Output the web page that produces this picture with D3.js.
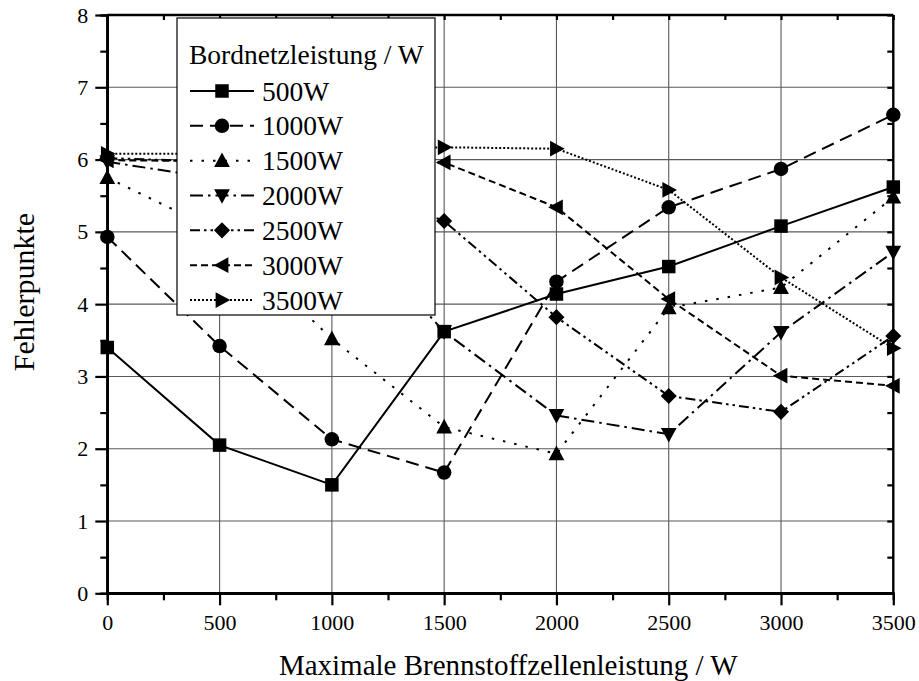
<!DOCTYPE html>
<html>
<head>
<meta charset="utf-8">
<script src="https://cdn.jsdelivr.net/npm/d3@7"></script>
<style>
html,body{margin:0;padding:0;background:#fff;}
svg{display:block;}
text{font-family:"Liberation Serif","Times New Roman",serif;fill:#000;}
</style>
</head>
<body>
<svg id="chart" width="919" height="681"></svg>
<script>
// ---- data ----
const xValues = [0, 500, 1000, 1500, 2000, 2500, 3000, 3500];
const seriesNames = ["500W", "1000W", "1500W", "2000W", "2500W", "3000W", "3500W"];
const s500  = [3.40, 2.05, 1.50, 3.62, 4.14, 4.52, 5.08, 5.62];
const s1000 = [4.93, 3.42, 2.13, 1.67, 4.31, 5.34, 5.87, 6.62];
const s1500 = [5.75, 5.00, 3.52, 2.30, 1.93, 3.95, 4.23, 5.48];
const s2000 = [5.97, 5.73, 5.30, 3.62, 2.46, 2.20, 3.61, 4.72];
const s2500 = [6.02, 5.97, 5.75, 5.15, 3.82, 2.73, 2.51, 3.56];
const s3000 = [5.99, 5.98, 5.97, 5.96, 5.34, 4.07, 3.01, 2.87];
const s3500 = [6.08, 6.08, 6.12, 6.17, 6.15, 5.58, 4.37, 3.39];
const xTickLabels = ["0", "500", "1000", "1500", "2000", "2500", "3000", "3500"];
const yTickLabels = ["0", "1", "2", "3", "4", "5", "6", "7", "8"];
const legendTitle = "Bordnetzleistung / W";
const xTitle = "Maximale Brennstoffzellenleistung / W";
const yTitle = "Fehlerpunkte";

const seriesValues = [s500, s1000, s1500, s2000, s2500, s3000, s3500];
const dashes = [null, "13,7", "2.5,9", "13,5,2.5,5", "10,4,2.5,4,2.5,4", "7,4", "2,2"];
const symbols = ["square", "circle", "up", "down", "diamond", "left", "right"];

// ---- layout ----
const L = 107.3, R = 893.3, T = 15, B = 593.3;
const svg = d3.select("#chart");
const x = d3.scaleLinear().domain([0, 3500]).range([L, R]);
const y = d3.scaleLinear().domain([0, 8]).range([B, T]);

// grid
const grid = svg.append("g");
grid.selectAll("line.v").data(d3.range(500, 3500, 500)).enter().append("line")
  .attr("x1", d => x(d)).attr("x2", d => x(d)).attr("y1", T).attr("y2", B)
  .attr("stroke", "#5a5a5a").attr("stroke-width", 1.1);
grid.selectAll("line.h").data(d3.range(1, 8, 1)).enter().append("line")
  .attr("y1", d => y(d)).attr("y2", d => y(d)).attr("x1", L).attr("x2", R)
  .attr("stroke", "#5a5a5a").attr("stroke-width", 1.1);

// marker path generator
function markerPath(type, s) {
  const h = s / 2;
  switch (type) {
    case "square": return `M${-h},${-h}H${h}V${h}H${-h}Z`;
    case "circle": return d3.symbol(d3.symbolCircle, Math.PI * h * h)();
    case "up": return `M0,${-h * 1.1}L${h * 1.05},${h * 0.85}L${-h * 1.05},${h * 0.85}Z`;
    case "down": return `M0,${h * 1.1}L${h * 1.05},${-h * 0.85}L${-h * 1.05},${-h * 0.85}Z`;
    case "diamond": return `M0,${-h * 1.15}L${h * 1.15},0L0,${h * 1.15}L${-h * 1.15},0Z`;
    case "left": return `M${-h * 1.1},0L${h * 0.85},${-h * 1.05}L${h * 0.85},${h * 1.05}Z`;
    case "right": return `M${h * 1.1},0L${-h * 0.85},${-h * 1.05}L${-h * 0.85},${h * 1.05}Z`;
  }
}
const msize = { square: 13.5, circle: 14.5, up: 15, down: 15, diamond: 14, left: 15, right: 15 };

const line = d3.line().x((d, i) => x(xValues[i])).y(d => y(d));

const plot = svg.append("g");
seriesValues.forEach((vals, k) => {
  const g = plot.append("g");
  g.append("path").datum(vals).attr("d", line)
    .attr("fill", "none").attr("stroke", "#000").attr("stroke-width", 2)
    .attr("stroke-dasharray", dashes[k]);
  g.selectAll("path.m").data(vals).enter().append("path")
    .attr("transform", (d, i) => `translate(${x(xValues[i])},${y(d)})`)
    .attr("d", markerPath(symbols[k], msize[symbols[k]]))
    .attr("fill", "#000");
});

// axes
const majorX = d3.range(0, 3501, 500), minorX = d3.range(250, 3500, 500);
const majorY = d3.range(0, 9, 1), minorY = d3.range(0.5, 8, 1);

const axB = svg.append("g").attr("transform", `translate(0,${B})`);
axB.call(d3.axisBottom(x).tickValues(majorX).tickSize(12).tickPadding(9)
  .tickFormat((d, i) => xTickLabels[i]));
axB.append("g").call(d3.axisBottom(x).tickValues(minorX).tickSize(7).tickFormat(""));

const axL = svg.append("g").attr("transform", `translate(${L},0)`);
axL.call(d3.axisLeft(y).tickValues(majorY).tickSize(12).tickPadding(7)
  .tickFormat((d, i) => yTickLabels[i]));
axL.append("g").call(d3.axisLeft(y).tickValues(minorY).tickSize(7).tickFormat(""));

const axT = svg.append("g").attr("transform", `translate(0,${T})`);
axT.call(d3.axisBottom(x).tickValues(majorX.concat(minorX)).tickSize(5).tickFormat(""));
const axR = svg.append("g").attr("transform", `translate(${R},0)`);
axR.call(d3.axisLeft(y).tickValues(majorY.concat(minorY)).tickSize(6).tickFormat(""));

svg.selectAll(".domain").attr("stroke", "#000").attr("stroke-width", 2.4);
svg.selectAll(".tick line").attr("stroke", "#000").attr("stroke-width", 2.2);
svg.selectAll(".tick text").style("font-family", "Liberation Serif").style("font-size", "22px").attr("fill", "#000");
axT.select(".domain").attr("d", `M${L},0H${R}`);
axR.select(".domain").attr("d", `M0,${T}V${B}`);
axB.select(".domain").attr("d", `M${L},0H${R}`);
axL.select(".domain").attr("d", `M0,${T}V${B}`);

// titles
svg.append("text").attr("x", (L + R) / 2 + 8).attr("y", 675).attr("text-anchor", "middle")
  .style("font-size", "29px").text(xTitle);
svg.append("text").attr("transform", `translate(34,292) rotate(-90)`).attr("text-anchor", "middle")
  .style("font-size", "30px").text(yTitle);

// legend
const lg = svg.append("g");
lg.append("rect").attr("x", 177).attr("y", 18).attr("width", 258).attr("height", 297)
  .attr("fill", "#fff").attr("stroke", "#000").attr("stroke-width", 1.2);
lg.append("text").attr("x", 189).attr("y", 64).style("font-size", "27.5px").text(legendTitle);
const legY = d3.scaleLinear().domain([0, 6]).range([91, 300]);
seriesNames.forEach((name, k) => {
  const cy = legY(k);
  lg.append("line").attr("x1", 190).attr("x2", 254).attr("y1", cy).attr("y2", cy)
    .attr("stroke", "#000").attr("stroke-width", 2).attr("stroke-dasharray", dashes[k]);
  lg.append("path").attr("transform", `translate(222,${cy})`)
    .attr("d", markerPath(symbols[k], msize[symbols[k]])).attr("fill", "#000");
  lg.append("text").attr("x", 262).attr("y", cy + 9.5).style("font-size", "27.5px").text(name);
});
</script>
</body>
</html>
